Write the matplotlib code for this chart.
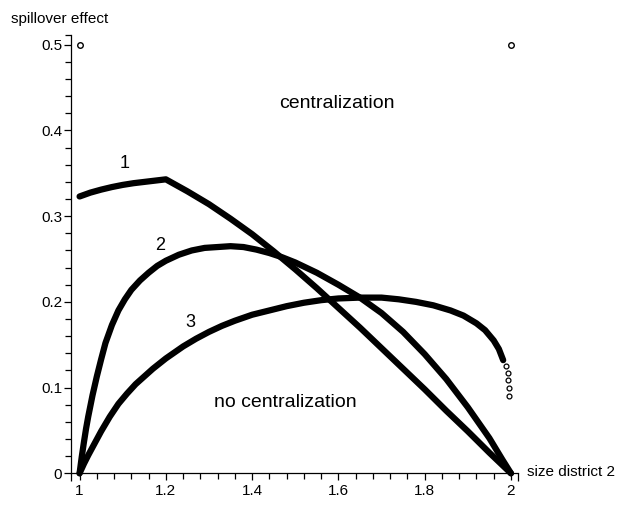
import matplotlib
matplotlib.use("Agg")
import matplotlib.pyplot as plt
from matplotlib.ticker import FixedLocator, MultipleLocator

plt.rcParams['font.family'] = ['Liberation Sans', 'DejaVu Sans']

# curve 1
x1 = [1.0, 1.025, 1.05, 1.075, 1.1, 1.125, 1.15, 1.175, 1.2,
      1.25, 1.3, 1.35, 1.4, 1.45, 1.5, 1.55, 1.6, 1.65, 1.7, 1.75, 1.8, 1.85, 1.9, 1.95, 2.0]
y1 = [0.323, 0.3275, 0.331, 0.334, 0.3365, 0.3385, 0.340, 0.3415, 0.343,
      0.329, 0.314, 0.297, 0.279, 0.259, 0.238, 0.216, 0.193, 0.170, 0.146, 0.122, 0.098,
      0.073, 0.049, 0.024, 0.0]

# curve 2
x2 = [1.0, 1.005, 1.01, 1.015, 1.02, 1.03, 1.04, 1.05, 1.06, 1.075, 1.09, 1.105,
      1.12, 1.14, 1.16, 1.18, 1.2, 1.23, 1.26, 1.29, 1.32, 1.35, 1.38, 1.41,
      1.44, 1.47, 1.5, 1.55, 1.6, 1.65, 1.7, 1.75, 1.8, 1.85, 1.9, 1.95, 1.98, 2.0]
y2 = [0.0, 0.019, 0.036, 0.052, 0.066, 0.091, 0.113, 0.133, 0.152, 0.173, 0.190, 0.203,
      0.214, 0.225, 0.234, 0.242, 0.248, 0.255, 0.260, 0.263, 0.264, 0.265, 0.264, 0.261,
      0.257, 0.252, 0.246, 0.234, 0.220, 0.205, 0.187, 0.165, 0.139, 0.110, 0.077, 0.041, 0.016, 0.0]

# curve 3
x3 = [1.0, 1.01, 1.02, 1.035, 1.05, 1.07, 1.09, 1.11, 1.13, 1.15, 1.17, 1.2, 1.24,
      1.27, 1.3, 1.33, 1.36, 1.4, 1.44, 1.48, 1.52, 1.56, 1.6, 1.65, 1.7, 1.74,
      1.78, 1.82, 1.86, 1.89, 1.92, 1.94, 1.96, 1.972, 1.982]
y3 = [0.0, 0.011, 0.021, 0.035, 0.049, 0.066, 0.081, 0.093, 0.104, 0.113, 0.122, 0.134, 0.148,
      0.157, 0.165, 0.172, 0.178, 0.185, 0.190, 0.195, 0.199, 0.202, 0.204, 0.205, 0.205, 0.203,
      0.200, 0.196, 0.190, 0.184, 0.175, 0.167, 0.155, 0.145, 0.132]
x3_tail = [1.988, 1.992, 1.994, 1.995, 1.995]
y3_tail = [0.125, 0.117, 0.109, 0.099, 0.090]

# the two lone points at the top
xp = [1.0, 2.0]
yp = [0.5, 0.5]

xticks = [1.0, 1.2, 1.4, 1.6, 1.8, 2.0]
xlabels = ['1', '1.2', '1.4', '1.6', '1.8', '2']
yticks = [0.0, 0.1, 0.2, 0.3, 0.4, 0.5]
ylabels = ['0', '0.1', '0.2', '0.3', '0.4', '0.5']

fig = plt.figure(figsize=(6.18, 5.07), dpi=100)
ax = fig.add_axes([0.1155, 0.0665, 0.7228, 0.8646])

for xs, ys in [(x1, y1), (x2, y2), (x3, y3)]:
    ax.plot(xs, ys, color='black', lw=4.5, solid_capstyle='round',
            solid_joinstyle='round', clip_on=False)
ax.plot(x3_tail, y3_tail, 'o', color='black', mfc='white', ms=3.5, mew=0.9, clip_on=False)
ax.plot(xp, yp, 'o', color='black', mfc='white', ms=4, mew=1, clip_on=False)

ax.set_xlim(0.981, 2.0165)
ax.set_ylim(0, 0.5115)

for s in ['top', 'right']:
    ax.spines[s].set_visible(False)
for s in ['left', 'bottom']:
    ax.spines[s].set_linewidth(0.9)

ax.xaxis.set_major_locator(FixedLocator(xticks))
ax.set_xticklabels(xlabels)
ax.yaxis.set_major_locator(FixedLocator(yticks))
ax.set_yticklabels(ylabels)
ax.xaxis.set_minor_locator(MultipleLocator(0.04))
ax.yaxis.set_minor_locator(MultipleLocator(0.02))
ax.tick_params(which='major', length=5, width=0.9, labelsize=11, pad=3)
ax.tick_params(which='minor', length=4, width=0.9)
ax.tick_params(axis='y', which='major', pad=1.5)

# end caps of the axis lines
ax.plot([0, 1], [0, 0], ls='none', marker=3, ms=6, mew=0.9, color='black',
        transform=ax.transAxes, clip_on=False)
ax.plot([0], [1], ls='none', marker=0, ms=4, mew=0.9, color='black',
        transform=ax.transAxes, clip_on=False)

W, H = 618, 507
def ftext(px, py, s, size, ha='center'):
    fig.text(px / W, 1 - py / H, s, fontsize=size, ha=ha, va='center')

ftext(59.5, 19, 'spillover effect', 11)
ftext(527, 471.7, 'size district 2', 11, ha='left')
ftext(337, 103, 'centralization', 14)
ftext(285.5, 402.7, 'no centralization', 14)
ftext(125, 163.3, '1', 13)
ftext(160.5, 245.5, '2', 13)
ftext(190, 322.7, '3', 13)

fig.savefig('out.png', dpi=100)
